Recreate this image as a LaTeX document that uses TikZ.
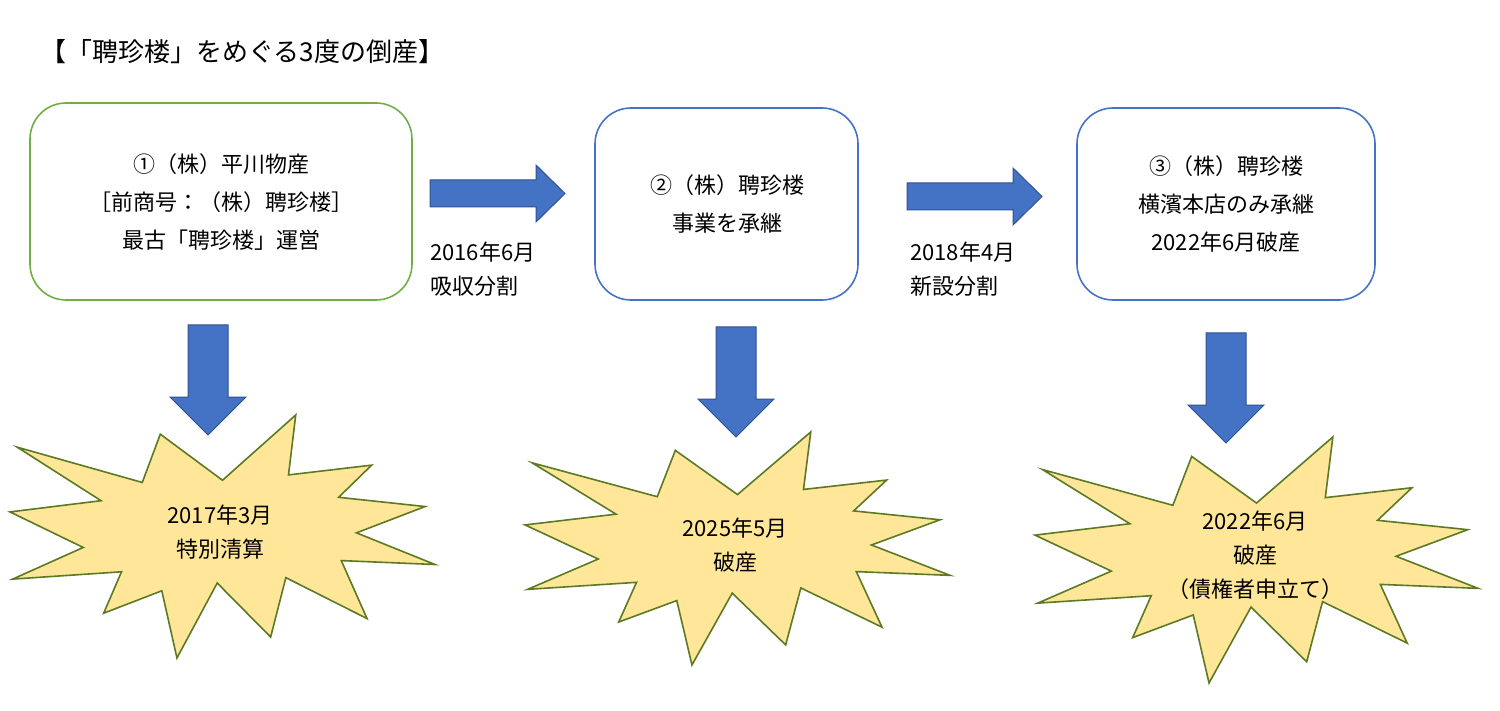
\documentclass[tikz,border=0pt]{standalone}
\usepackage{fontspec}
\setmainfont{Noto Sans CJK JP}
\begin{document}
\begin{tikzpicture}[x=1pt,y=-1pt,
  box/.style={draw,line width=1.6pt,rounded corners=36pt},
  lbl/.style={align=left,anchor=north west,font=\fontsize{22}{34}\selectfont,inner sep=0pt},
  star/.style={fill=starfill,draw=stardraw,line width=1.6pt,line join=miter},
  arr/.style={fill=arrblue,draw=arredge,line width=1pt}]
\definecolor{gbox}{HTML}{70AD47}
\definecolor{bbox}{HTML}{4472C4}
\definecolor{arrblue}{HTML}{4472C4}
\definecolor{arredge}{HTML}{2F528F}
\definecolor{starfill}{HTML}{FFE699}
\definecolor{stardraw}{HTML}{5B7A23}
\useasboundingbox (0,0) rectangle (1500,711);
\node[anchor=west,font=\fontsize{26}{30}\selectfont,inner sep=0pt] (title) at (40,52) {【「聘珍楼」をめぐる3度の倒産】};
% boxes
\draw[box,draw=gbox] (30,103) rectangle (412,300);
\node[align=center,font=\fontsize{22}{38}\selectfont] (t1) at (221,202) {①（株）平川物産\\［前商号：（株）聘珍楼］\\最古「聘珍楼」運営};
\draw[box,draw=bbox] (595,108) rectangle (858,300);
\node[align=center,font=\fontsize{22}{38}\selectfont] (t2) at (727,204) {②（株）聘珍楼\\事業を承継};
\draw[box,draw=bbox] (1077,108) rectangle (1375,300);
\node[align=center,font=\fontsize{22}{38}\selectfont] (t3) at (1226,204) {③（株）聘珍楼\\横濱本店のみ承継\\2022年6月破産};
% right arrows
\foreach \x/\y in {430/165,907/168}{
  \draw[arr] (\x,\y+15) -- (\x+106,\y+15) -- (\x+106,\y) -- (\x+135,\y+28.5) -- (\x+106,\y+57) -- (\x+106,\y+42) -- (\x,\y+42) -- cycle;}
\node[lbl] (l1) at (430,242) {2016年6月\\吸収分割};
\node[lbl] (l2) at (910,242) {2018年4月\\新設分割};
% down arrows
\foreach \x/\y in {170/325,698/327,1188/333}{
  \draw[arr] (\x+18,\y) -- (\x+58,\y) -- (\x+58,\y+72) -- (\x+76,\y+72) -- (\x+38,\y+110) -- (\x,\y+72) -- (\x+18,\y+72) -- cycle;}
% stars
\foreach \ox/\oy/\w/\h in {10/415/425/243,525/432/425/233,1035/437/443/246}{
  \draw[star,x=\w pt/216,y=-\h pt/216,shift={(\ox pt,-\oy pt)}]
   (108.00,58.00)--(145.22,0)--(141.55,53.25)--(183.80,44.57)--(167.02,73.15)--(210.97,81.37)--(176.07,104.75)--(216.00,132.90)--(168.37,129.42)--(181.45,180.95)--(140.20,144.57)--(132.47,197.37)--(105.32,149.35)--(84.85,216.00)--(77.15,156.27)--(47.62,176.17)--(56.67,139.37)--(1.35,145.87)--(37.22,117.75)--(0,86.15)--(46.27,76.17)--(3.70,28.63)--(67.22,59.97)--(76.40,17.05)--cycle;}
\node[align=center,font=\fontsize{22}{34}\selectfont] (s1) at (220,532) {2017年3月\\特別清算};
\node[align=center,font=\fontsize{22}{34}\selectfont] (s2) at (735,545) {2025年5月\\破産};
\node[align=center,font=\fontsize{22}{34}\selectfont] (s3) at (1255,555) {2022年6月\\破産\\（債権者申立て）};
\end{tikzpicture}
\end{document}
